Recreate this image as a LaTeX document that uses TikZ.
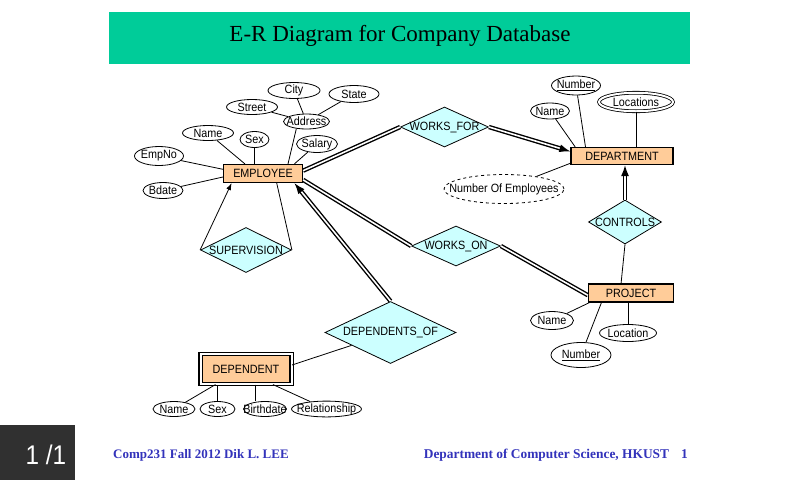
\documentclass[tikz,border=0pt]{standalone}
\usepackage{fontspec}
\setmainfont{Liberation Serif}
\setsansfont{Liberation Sans}[FakeStretch=0.9]
\usepackage{tikz}
\usetikzlibrary{shapes.geometric, arrows.meta, positioning}
\usepackage{xcolor}
\definecolor{titlegreen}{RGB}{0,204,153}
\definecolor{entfill}{RGB}{255,204,153}
\definecolor{relfill}{RGB}{204,255,255}
\definecolor{footblue}{RGB}{51,51,187}
\definecolor{pagegray}{RGB}{48,48,48}
\tikzstyle{arrow} = [->,>={Latex[length=7pt,width=5pt]}]
\tikzstyle{bigarrow} = [->,>={Latex[length=11pt,width=8pt]}]

\begin{document}
\begin{tikzpicture}[x=1pt, y=-1pt, every node/.style={font=\sffamily\fontsize{12}{13}\selectfont}]
    % Define styles using \tikzset
    \tikzset{
        zerobox/.style={execute at begin node={\hbox to 0pt\bgroup\hss}, execute at end node={\hss\egroup}},
        entity/.style={rectangle, draw=black, fill=entfill, line width=1.2pt, inner sep=0pt},
        weak/.style={entity, double=white, double distance=2pt, line width=1.1pt},
        attr/.style={ellipse, draw=black, fill=white, line width=0.8pt, inner sep=0pt, zerobox},
        multi/.style={attr, double=white, double distance=2pt},
        derived/.style={attr, dashed},
        rel/.style={diamond, draw=black, fill=relfill, line width=0.8pt, inner sep=0pt, zerobox},
        link/.style={line width=0.8pt},
        total/.style={double=white, double distance=1.6pt, line width=1.4pt}
    }

    % --- PAGE ---
    \fill[white] (0,0) rectangle (800,480);
    \useasboundingbox (0,0) rectangle (800,480);
    \fill[titlegreen] (109,12) rectangle (690,64);
    \node (title) [font=\rmfamily\fontsize{23}{26}\selectfont, anchor=base, inner sep=0pt] at (400,41) {E-R Diagram for Company Database};

    % --- ENTITIES ---
    \node (emp) [entity, minimum width=79pt, minimum height=18pt] at (263,173.5) {EMPLOYEE};
    \node (dept) [entity, minimum width=102pt, minimum height=17pt] at (622,156) {DEPARTMENT};
    \node (proj) [entity, minimum width=85pt, minimum height=18pt] at (631,293) {PROJECT};
    \node (dep) [weak, minimum width=91pt, minimum height=30pt] at (246,369) {DEPENDENT};

    % --- RELATIONSHIPS ---
    \node (worksfor) [rel, minimum width=88pt, minimum height=40pt] at (444.5,127) {WORKS\_FOR};
    \node (workson) [rel, minimum width=89pt, minimum height=40pt] at (456,246) {WORKS\_ON};
    \node (controls) [rel, minimum width=73pt, minimum height=44pt] at (625,222) {CONTROLS};
    \node (superv) [rel, minimum width=91pt, minimum height=45pt] at (246,250) {SUPERVISION};
    \node (depof) [rel, minimum width=131pt, minimum height=62pt] at (390.5,332.5) {DEPENDENTS\_OF};

    % EMPLOYEE attributes
    \node (ename) [attr, minimum width=51pt, minimum height=15pt] at (208,133) {Name};
    \node (esex) [attr, minimum width=29pt, minimum height=16pt] at (254.5,139.5) {Sex};
    \node (empno) [attr, minimum width=49pt, minimum height=19pt] at (159,156) {EmpNo};
    \node (bdate) [attr, minimum width=40pt, minimum height=16pt] at (163,190.5) {Bdate};
    \node (street) [attr, minimum width=51pt, minimum height=15pt] at (252,107) {Street};
    \node (city) [attr, minimum width=52pt, minimum height=16pt] at (294,90.5) {City};
    \node (state) [attr, minimum width=50pt, minimum height=17pt] at (354,94) {State};
    \node (address) [attr, minimum width=46pt, minimum height=15pt] at (306.5,121.5) {Address};
    \node (salary) [attr, minimum width=41pt, minimum height=17pt] at (317,144) {Salary};

    % DEPARTMENT attributes
    \node (dname) [attr, minimum width=39pt, minimum height=16pt] at (550,111) {Name};
    \node (dnumber) [attr, minimum width=49pt, minimum height=19pt] at (576,85.5) {\underline{Number}};
    \node (dloc) [multi, minimum width=74pt, minimum height=18.5pt] at (636,102) {Locations};
    \node (nemp) [derived, minimum width=120pt, minimum height=29pt] at (504,189) {Number Of Employees};

    % PROJECT attributes
    \node (pname) [attr, minimum width=43pt, minimum height=18pt] at (552,320.5) {Name};
    \node (pnumber) [attr, minimum width=60pt, minimum height=25pt] at (581,355) {\underline{Number}};
    \node (ploc) [attr, minimum width=57pt, minimum height=17pt] at (628,333) {Location};

    % DEPENDENT attributes
    \node (dpname) [attr, minimum width=42pt, minimum height=15pt] at (174,409) {Name};
    \node (dpsex) [attr, minimum width=35pt, minimum height=15pt] at (217.5,409) {Sex};
    \node (dpbdate) [attr, minimum width=43pt, minimum height=15pt] at (265,409) {Birthdate};
    \node (relship) [attr, minimum width=70pt, minimum height=15pt] at (326.5,409) {Relationship};

    % Connections attributes
    \draw[link] (ename) -- (emp.152);
    \draw[link] (esex) -- (esex |- emp.north);
    \draw[link] (empno) -- (emp.174);
    \draw[link] (bdate) -- (emp.185);
    \draw[link] (address.215) -- (emp.21);
    \draw[link] (salary) -- (emp.17);
    \draw[link] (street) -- (address);
    \draw[link] (city) -- (address);
    \draw[link] (state) -- (address);
    \draw[link] (dname) -- (dept.169);
    \draw[link] (dnumber) -- (dept.166);
    \draw[link] (dloc) -- (dloc |- dept.north);
    \draw[link] (nemp) -- (dept.188);
    \draw[link] (pname) -- (proj.193);
    \draw[link] (pnumber) -- (proj.198);
    \draw[link] (ploc) -- (ploc |- proj.south);
    \draw[link] (dpname) -- (dep.207);
    \draw[link] (dpsex) -- (dpsex |- dep.south);
    \draw[link] (dep.301) -- (dep.301 |- dpbdate.north);
    \draw[link] (relship) -- (dep.330);

    % Connections relationships
    \draw[total] (emp.4) -- (worksfor.west);
    \draw[total, bigarrow] (worksfor.east) -- (dept.175);
    \draw[total] (emp.-9) -- (workson.west);
    \draw[total] (workson.east) -- (proj.183);
    \draw[total, bigarrow] (depof.north) -- (emp.-17);
    \draw[total, bigarrow] (controls.north) -- (controls.north |- dept.south);
    \draw[link] (controls.south) -- (proj.136);
    \draw[link, arrow] (superv.west) -- (emp.197);
    \draw[link] (superv.east) -- (emp.325);
    \draw[link] (dep.5) -- (depof);

    % --- FOOTER ---
    \fill[pagegray] (0,425) rectangle (75,480);
    \node (pagenum) [text=white, font=\sffamily\fontsize{27}{29}\selectfont, anchor=base, inner sep=0pt] at (46,464) {1 /1};
    \node (course) [text=footblue, font=\rmfamily\bfseries\fontsize{13}{15}\selectfont, anchor=base west, inner sep=0pt] at (113,458) {Comp231 Fall 2012 Dik L. LEE};
    \node (dcs) [text=footblue, font=\rmfamily\bfseries\fontsize{13.4}{15}\selectfont, anchor=base east, inner sep=0pt] at (688,458) {Department of Computer Science, HKUST\hspace{12pt}1};

\end{tikzpicture}
\end{document}
